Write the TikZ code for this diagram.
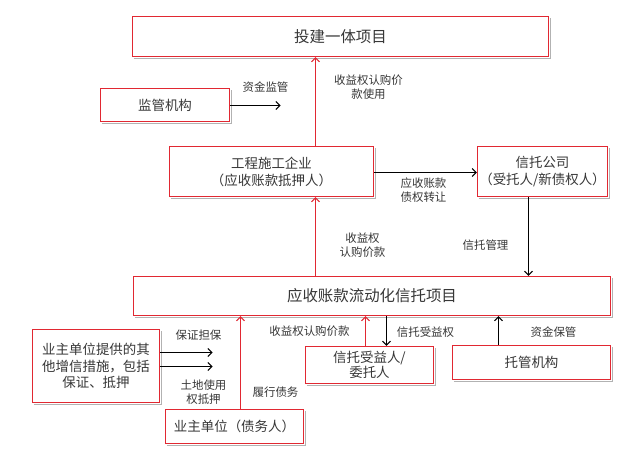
\documentclass[tikz,border=0pt]{standalone}
\usepackage{fontspec}
\setmainfont{Noto Sans CJK SC}
\usetikzlibrary{arrows.meta,backgrounds}
\definecolor{bred}{RGB}{225,40,50}
\definecolor{txt}{RGB}{55,55,55}
\begin{document}
\begin{tikzpicture}[x=1bp,y=-1bp,
  box/.style={draw=bred, line width=1.2bp, fill=white, rectangle, inner sep=0pt, align=center, text=txt},
  bigtxt/.style={font=\fontsize{15.5}{18}\selectfont},
  midtxt/.style={font=\fontsize{13.5}{17}\selectfont},
  lbl/.style={font=\fontsize{11.5}{14}\selectfont, align=center, inner sep=0pt, text=txt},
  ar/.style={-{Straight Barb[length=4bp,width=8bp]}, line width=1bp, draw=black},
  rar/.style={ar, draw=bred},
  shade/.style={draw=black!30, line width=1.6bp}]
\useasboundingbox (0,0) rectangle (640,461);
\begin{scope}[shift={(0.5,0.5)}]
% boxes
\node[box,bigtxt,minimum width=416bp,minimum height=40bp] (top) at (340,36) {投建一体项目};
\node[box,midtxt,minimum width=129bp,minimum height=33bp] (jg) at (164.5,104.5) {监管机构};
\node[box,midtxt,minimum width=204bp,minimum height=50bp] (gc) at (271,171) {工程施工企业\\（应收账款抵押人）};
\node[box,midtxt,minimum width=130bp,minimum height=50bp] (xt) at (542,171) {信托公司\\（受托人/新债权人）};
\node[box,bigtxt,minimum width=477bp,minimum height=39bp] (main) at (371.5,295.5) {应收账款流动化信托项目};
\node[box,font=\fontsize{13.5}{16.5}\selectfont,minimum width=127bp,minimum height=73bp] (zx) at (95.5,365.5) {业主单位提供的其\\他增信措施，包括\\保证、抵押};
\node[box,midtxt,minimum width=138bp,minimum height=34bp] (yz) at (234,426) {业主单位（债务人）};
\node[box,font=\fontsize{13.5}{15}\selectfont,minimum width=128bp,minimum height=37bp] (sy) at (369,364.5) {信托受益人/\\委托人};
\node[box,midtxt,minimum width=158bp,minimum height=34bp] (tg) at (531,362) {托管机构};

% soft shadows behind the boxes
\begin{pgfonlayer}{background}
\fill[white] (-0.5,-0.5) rectangle (639.5,460.5);
\foreach \n in {top,jg,gc,xt,main,zx,yz,sy,tg}{
  \draw[shade] ([xshift=2bp,yshift=-1.5bp]\n.south west) -- ([xshift=1.5bp,yshift=-1.5bp]\n.south east) -- ([xshift=1.5bp,yshift=-2bp]\n.north east);
}
\end{pgfonlayer}

% column coordinates
\coordinate (c315) at (315,0);
\coordinate (c528) at (528,0);
\coordinate (c240) at (240,0);
\coordinate (c365) at (365,0);
\coordinate (c386) at (386,0);
\coordinate (c498) at (498,0);
\coordinate (jgend) at (280,105);
\coordinate (zxa) at (212,352);
\coordinate (zxb) at (212,366);
\coordinate (row172) at (0,172);

% connectors
\draw[ar] (jg.east |- jgend) -- (jgend);
\draw[rar] (gc.north -| c315) -- (top.south -| c315);
\draw[ar] (gc.east |- row172) -- (xt.west |- row172);
\draw[rar] (main.north -| c315) -- (gc.south -| c315);
\draw[ar] (xt.south -| c528) -- (main.north -| c528);
\draw[ar] (zx.east |- zxa) -- (zxa);
\draw[ar] (zx.east |- zxb) -- (zxb);
\draw[rar] (yz.north -| c240) -- (main.south -| c240);
\draw[rar] (sy.north -| c365) -- (main.south -| c365);
\draw[ar] (main.south -| c386) -- (sy.north -| c386);
\draw[ar] (tg.north -| c498) -- (main.south -| c498);

% labels
\node[lbl] (l1) at (265,87) {资金监管};
\node[lbl] (l2) at (368,86.5) {收益权认购价\\款使用};
\node[lbl] (l3) at (423,190) {应收账款\\债权转让};
\node[lbl] (l4) at (362,245) {收益权\\认购价款};
\node[lbl] (l5) at (485,245) {信托管理};
\node[lbl] (l6) at (198,335) {保证担保};
\node[lbl] (l7) at (203,392) {土地使用\\权抵押};
\node[lbl] (l8) at (275,392) {履行债务};
\node[lbl] (l9) at (309,331) {收益权认购价款};
\node[lbl] (l10) at (425,332) {信托受益权};
\node[lbl] (l11) at (553,332) {资金保管};
\end{scope}
\end{tikzpicture}
\end{document}
